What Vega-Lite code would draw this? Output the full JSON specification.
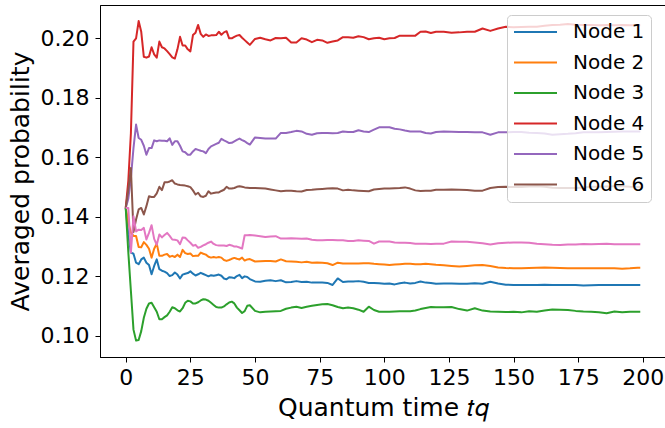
{
  "$schema": "https://vega.github.io/schema/vega-lite/v6.json",
  "width": 566,
  "height": 352,
  "autosize": {"type": "none"},
  "padding": {"left": 100, "top": 5, "right": 0, "bottom": 71},
  "background": "white",
  "config": {
    "font": "DejaVu Sans",
    "view": {"stroke": "black", "strokeWidth": 1},
    "axis": {
      "grid": false,
      "domainColor": "black",
      "tickColor": "black",
      "tickSize": 5,
      "labelColor": "black",
      "titleColor": "black",
      "labelFont": "DejaVu Sans",
      "titleFont": "DejaVu Sans",
      "labelFontSize": 22,
      "titleFontSize": 25,
      "titleFontWeight": "normal"
    }
  },
  "data": {
    "values": [
      {"t":0,"Node 1":0.1429,"Node 2":0.1429,"Node 3":0.1429,"Node 4":0.1429,"Node 5":0.1429,"Node 6":0.1429,"Node 7":0.1429},
      {"t":1,"Node 1":0.134,"Node 2":0.138,"Node 3":0.128,"Node 4":0.152,"Node 5":0.146,"Node 6":0.149,"Node 7":0.1429},
      {"t":2,"Node 1":0.1279,"Node 2":0.1346,"Node 3":0.115,"Node 4":0.168,"Node 5":0.153,"Node 6":0.1563,"Node 7":0.1279},
      {"t":3,"Node 1":0.1275,"Node 2":0.1335,"Node 3":0.102,"Node 4":0.1988,"Node 5":0.163,"Node 6":0.1348,"Node 7":0.1401},
      {"t":4,"Node 1":0.1245,"Node 2":0.1335,"Node 3":0.0983,"Node 4":0.1999,"Node 5":0.1709,"Node 6":0.139,"Node 7":0.135},
      {"t":5,"Node 1":0.124,"Node 2":0.1298,"Node 3":0.0985,"Node 4":0.2057,"Node 5":0.1664,"Node 6":0.1424,"Node 7":0.1356},
      {"t":6,"Node 1":0.1256,"Node 2":0.1297,"Node 3":0.1015,"Node 4":0.2021,"Node 5":0.1658,"Node 6":0.1429,"Node 7":0.1355},
      {"t":7,"Node 1":0.1262,"Node 2":0.1314,"Node 3":0.106,"Node 4":0.1937,"Node 5":0.1638,"Node 6":0.1407,"Node 7":0.1362},
      {"t":8,"Node 1":0.1245,"Node 2":0.1305,"Node 3":0.109,"Node 4":0.1934,"Node 5":0.1608,"Node 6":0.1435,"Node 7":0.1323},
      {"t":9,"Node 1":0.1237,"Node 2":0.1292,"Node 3":0.1108,"Node 4":0.1938,"Node 5":0.163,"Node 6":0.1468,"Node 7":0.1345},
      {"t":10,"Node 1":0.1206,"Node 2":0.1262,"Node 3":0.111,"Node 4":0.1969,"Node 5":0.163,"Node 6":0.1466,"Node 7":0.1371},
      {"t":11,"Node 1":0.1234,"Node 2":0.1292,"Node 3":0.1095,"Node 4":0.1945,"Node 5":0.1656,"Node 6":0.1466,"Node 7":0.1325},
      {"t":12,"Node 1":0.1256,"Node 2":0.1309,"Node 3":0.108,"Node 4":0.1934,"Node 5":0.1653,"Node 6":0.1478,"Node 7":0.1305},
      {"t":13,"Node 1":0.1223,"Node 2":0.1268,"Node 3":0.1055,"Node 4":0.1988,"Node 5":0.1656,"Node 6":0.15,"Node 7":0.134},
      {"t":14,"Node 1":0.1218,"Node 2":0.1268,"Node 3":0.1055,"Node 4":0.1969,"Node 5":0.1655,"Node 6":0.1489,"Node 7":0.133},
      {"t":15,"Node 1":0.1215,"Node 2":0.1272,"Node 3":0.1062,"Node 4":0.1965,"Node 5":0.1655,"Node 6":0.1515,"Node 7":0.1338},
      {"t":16,"Node 1":0.121,"Node 2":0.1274,"Node 3":0.1068,"Node 4":0.1956,"Node 5":0.1653,"Node 6":0.1515,"Node 7":0.1345},
      {"t":17,"Node 1":0.12,"Node 2":0.1265,"Node 3":0.108,"Node 4":0.1946,"Node 5":0.1663,"Node 6":0.1518,"Node 7":0.1335},
      {"t":18,"Node 1":0.1203,"Node 2":0.1268,"Node 3":0.1095,"Node 4":0.1935,"Node 5":0.1641,"Node 6":0.1522,"Node 7":0.1323},
      {"t":19,"Node 1":0.1212,"Node 2":0.1264,"Node 3":0.1092,"Node 4":0.1931,"Node 5":0.1653,"Node 6":0.1511,"Node 7":0.1322},
      {"t":20,"Node 1":0.1205,"Node 2":0.1272,"Node 3":0.1085,"Node 4":0.1962,"Node 5":0.1653,"Node 6":0.1508,"Node 7":0.132},
      {"t":21,"Node 1":0.1192,"Node 2":0.1264,"Node 3":0.1081,"Node 4":0.2004,"Node 5":0.1638,"Node 6":0.1506,"Node 7":0.1307},
      {"t":22,"Node 1":0.1205,"Node 2":0.1288,"Node 3":0.1092,"Node 4":0.1975,"Node 5":0.1619,"Node 6":0.1505,"Node 7":0.133},
      {"t":23,"Node 1":0.1208,"Node 2":0.1277,"Node 3":0.111,"Node 4":0.1975,"Node 5":0.1616,"Node 6":0.1504,"Node 7":0.1329},
      {"t":24,"Node 1":0.121,"Node 2":0.1274,"Node 3":0.1117,"Node 4":0.1962,"Node 5":0.1608,"Node 6":0.1502,"Node 7":0.132},
      {"t":25,"Node 1":0.1216,"Node 2":0.1276,"Node 3":0.1115,"Node 4":0.1955,"Node 5":0.1608,"Node 6":0.1499,"Node 7":0.1312},
      {"t":26,"Node 1":0.1208,"Node 2":0.1267,"Node 3":0.1108,"Node 4":0.201,"Node 5":0.1619,"Node 6":0.1488,"Node 7":0.1302},
      {"t":27,"Node 1":0.1202,"Node 2":0.1268,"Node 3":0.1108,"Node 4":0.2018,"Node 5":0.1627,"Node 6":0.1474,"Node 7":0.1305},
      {"t":28,"Node 1":0.1206,"Node 2":0.1268,"Node 3":0.1112,"Node 4":0.2044,"Node 5":0.1624,"Node 6":0.148,"Node 7":0.1295},
      {"t":29,"Node 1":0.1211,"Node 2":0.1279,"Node 3":0.1118,"Node 4":0.2014,"Node 5":0.1621,"Node 6":0.1468,"Node 7":0.1298},
      {"t":30,"Node 1":0.1207,"Node 2":0.1275,"Node 3":0.1122,"Node 4":0.2004,"Node 5":0.1619,"Node 6":0.1466,"Node 7":0.1303},
      {"t":31,"Node 1":0.1203,"Node 2":0.1272,"Node 3":0.1121,"Node 4":0.2012,"Node 5":0.1613,"Node 6":0.147,"Node 7":0.1307},
      {"t":32,"Node 1":0.1199,"Node 2":0.1265,"Node 3":0.1117,"Node 4":0.2007,"Node 5":0.1627,"Node 6":0.1485,"Node 7":0.1312},
      {"t":33,"Node 1":0.1203,"Node 2":0.1262,"Node 3":0.111,"Node 4":0.2009,"Node 5":0.1636,"Node 6":0.1477,"Node 7":0.1316},
      {"t":34,"Node 1":0.1201,"Node 2":0.1264,"Node 3":0.1103,"Node 4":0.2009,"Node 5":0.164,"Node 6":0.1479,"Node 7":0.1308},
      {"t":35,"Node 1":0.1203,"Node 2":0.1262,"Node 3":0.1096,"Node 4":0.201,"Node 5":0.1644,"Node 6":0.1481,"Node 7":0.1304},
      {"t":36,"Node 1":0.1205,"Node 2":0.1264,"Node 3":0.1094,"Node 4":0.2021,"Node 5":0.1648,"Node 6":0.1481,"Node 7":0.1303},
      {"t":37,"Node 1":0.1201,"Node 2":0.1262,"Node 3":0.1094,"Node 4":0.2011,"Node 5":0.1661,"Node 6":0.1486,"Node 7":0.1303},
      {"t":38,"Node 1":0.1192,"Node 2":0.1254,"Node 3":0.1098,"Node 4":0.2019,"Node 5":0.1656,"Node 6":0.149,"Node 7":0.1303},
      {"t":39,"Node 1":0.1189,"Node 2":0.1251,"Node 3":0.1105,"Node 4":0.2023,"Node 5":0.1652,"Node 6":0.15,"Node 7":0.1301},
      {"t":40,"Node 1":0.1196,"Node 2":0.1254,"Node 3":0.1111,"Node 4":0.1999,"Node 5":0.1647,"Node 6":0.1494,"Node 7":0.1305},
      {"t":41,"Node 1":0.1195,"Node 2":0.1258,"Node 3":0.1114,"Node 4":0.1999,"Node 5":0.1648,"Node 6":0.1494,"Node 7":0.1303},
      {"t":42,"Node 1":0.1193,"Node 2":0.1261,"Node 3":0.1108,"Node 4":0.2004,"Node 5":0.1653,"Node 6":0.1496,"Node 7":0.1299},
      {"t":43,"Node 1":0.12,"Node 2":0.1258,"Node 3":0.1094,"Node 4":0.2008,"Node 5":0.1658,"Node 6":0.15,"Node 7":0.1299},
      {"t":44,"Node 1":0.1204,"Node 2":0.1256,"Node 3":0.1085,"Node 4":0.201,"Node 5":0.1662,"Node 6":0.1502,"Node 7":0.1296},
      {"t":45,"Node 1":0.1193,"Node 2":0.1262,"Node 3":0.1076,"Node 4":0.2001,"Node 5":0.1657,"Node 6":0.15,"Node 7":0.1292},
      {"t":46,"Node 1":0.1199,"Node 2":0.1252,"Node 3":0.1082,"Node 4":0.1993,"Node 5":0.1653,"Node 6":0.1498,"Node 7":0.1337},
      {"t":47,"Node 1":0.1197,"Node 2":0.1256,"Node 3":0.11,"Node 4":0.1985,"Node 5":0.1647,"Node 6":0.1497,"Node 7":0.1337},
      {"t":48,"Node 1":0.119,"Node 2":0.1257,"Node 3":0.1102,"Node 4":0.1977,"Node 5":0.1642,"Node 6":0.1496,"Node 7":0.1338},
      {"t":50,"Node 1":0.1182,"Node 2":0.1249,"Node 3":0.1083,"Node 4":0.1997,"Node 5":0.1666,"Node 6":0.1496,"Node 7":0.1336},
      {"t":52,"Node 1":0.1181,"Node 2":0.125,"Node 3":0.1078,"Node 4":0.2001,"Node 5":0.1664,"Node 6":0.1495,"Node 7":0.1334},
      {"t":54,"Node 1":0.1184,"Node 2":0.1251,"Node 3":0.108,"Node 4":0.1996,"Node 5":0.1662,"Node 6":0.1494,"Node 7":0.1331},
      {"t":56,"Node 1":0.1186,"Node 2":0.1251,"Node 3":0.1081,"Node 4":0.1992,"Node 5":0.1662,"Node 6":0.1491,"Node 7":0.1333},
      {"t":58,"Node 1":0.1183,"Node 2":0.1249,"Node 3":0.1082,"Node 4":0.2,"Node 5":0.1662,"Node 6":0.1488,"Node 7":0.1334},
      {"t":60,"Node 1":0.1186,"Node 2":0.1256,"Node 3":0.1083,"Node 4":0.1999,"Node 5":0.1681,"Node 6":0.1485,"Node 7":0.1326},
      {"t":62,"Node 1":0.1179,"Node 2":0.125,"Node 3":0.109,"Node 4":0.2001,"Node 5":0.1681,"Node 6":0.1487,"Node 7":0.1326},
      {"t":64,"Node 1":0.118,"Node 2":0.1249,"Node 3":0.1094,"Node 4":0.1985,"Node 5":0.1684,"Node 6":0.1487,"Node 7":0.1327},
      {"t":66,"Node 1":0.1183,"Node 2":0.1248,"Node 3":0.1097,"Node 4":0.1985,"Node 5":0.1688,"Node 6":0.1485,"Node 7":0.1326},
      {"t":68,"Node 1":0.118,"Node 2":0.1246,"Node 3":0.1093,"Node 4":0.1999,"Node 5":0.1686,"Node 6":0.1484,"Node 7":0.1325},
      {"t":70,"Node 1":0.1181,"Node 2":0.1248,"Node 3":0.1097,"Node 4":0.1995,"Node 5":0.1678,"Node 6":0.1489,"Node 7":0.1326},
      {"t":72,"Node 1":0.1178,"Node 2":0.1245,"Node 3":0.11,"Node 4":0.1986,"Node 5":0.1675,"Node 6":0.149,"Node 7":0.1322},
      {"t":74,"Node 1":0.1178,"Node 2":0.1246,"Node 3":0.1103,"Node 4":0.1994,"Node 5":0.168,"Node 6":0.1492,"Node 7":0.132},
      {"t":76,"Node 1":0.1178,"Node 2":0.1245,"Node 3":0.1105,"Node 4":0.1992,"Node 5":0.1681,"Node 6":0.1493,"Node 7":0.132},
      {"t":78,"Node 1":0.1177,"Node 2":0.1243,"Node 3":0.1106,"Node 4":0.1984,"Node 5":0.1681,"Node 6":0.1494,"Node 7":0.1321},
      {"t":80,"Node 1":0.117,"Node 2":0.1237,"Node 3":0.1102,"Node 4":0.1988,"Node 5":0.168,"Node 6":0.1495,"Node 7":0.1321},
      {"t":82,"Node 1":0.1192,"Node 2":0.1245,"Node 3":0.1096,"Node 4":0.1992,"Node 5":0.1681,"Node 6":0.1494,"Node 7":0.132},
      {"t":84,"Node 1":0.118,"Node 2":0.1242,"Node 3":0.1092,"Node 4":0.2003,"Node 5":0.1686,"Node 6":0.1488,"Node 7":0.132},
      {"t":86,"Node 1":0.1182,"Node 2":0.1242,"Node 3":0.1094,"Node 4":0.2003,"Node 5":0.1684,"Node 6":0.149,"Node 7":0.1318},
      {"t":88,"Node 1":0.1182,"Node 2":0.1242,"Node 3":0.1092,"Node 4":0.2001,"Node 5":0.1684,"Node 6":0.1488,"Node 7":0.1318},
      {"t":90,"Node 1":0.1183,"Node 2":0.1242,"Node 3":0.1087,"Node 4":0.2006,"Node 5":0.169,"Node 6":0.1487,"Node 7":0.132},
      {"t":92,"Node 1":0.1181,"Node 2":0.1243,"Node 3":0.108,"Node 4":0.2003,"Node 5":0.1686,"Node 6":0.1486,"Node 7":0.1319},
      {"t":94,"Node 1":0.1177,"Node 2":0.1243,"Node 3":0.1097,"Node 4":0.1996,"Node 5":0.1684,"Node 6":0.1485,"Node 7":0.1318},
      {"t":96,"Node 1":0.1177,"Node 2":0.1241,"Node 3":0.1086,"Node 4":0.1999,"Node 5":0.1692,"Node 6":0.1491,"Node 7":0.1309},
      {"t":98,"Node 1":0.1176,"Node 2":0.124,"Node 3":0.108,"Node 4":0.2001,"Node 5":0.17,"Node 6":0.1493,"Node 7":0.1316},
      {"t":100,"Node 1":0.1174,"Node 2":0.1239,"Node 3":0.108,"Node 4":0.1996,"Node 5":0.17,"Node 6":0.1494,"Node 7":0.1316},
      {"t":102,"Node 1":0.1175,"Node 2":0.1237,"Node 3":0.108,"Node 4":0.1999,"Node 5":0.17,"Node 6":0.1494,"Node 7":0.1316},
      {"t":104,"Node 1":0.1172,"Node 2":0.1239,"Node 3":0.1081,"Node 4":0.2,"Node 5":0.1695,"Node 6":0.1495,"Node 7":0.1313},
      {"t":106,"Node 1":0.1176,"Node 2":0.124,"Node 3":0.1082,"Node 4":0.2008,"Node 5":0.1693,"Node 6":0.1496,"Node 7":0.1312},
      {"t":108,"Node 1":0.1178,"Node 2":0.1241,"Node 3":0.1082,"Node 4":0.2008,"Node 5":0.1689,"Node 6":0.1498,"Node 7":0.1312},
      {"t":110,"Node 1":0.1175,"Node 2":0.1241,"Node 3":0.1082,"Node 4":0.2008,"Node 5":0.1686,"Node 6":0.1494,"Node 7":0.1311},
      {"t":112,"Node 1":0.1177,"Node 2":0.124,"Node 3":0.1084,"Node 4":0.2008,"Node 5":0.1686,"Node 6":0.1488,"Node 7":0.1309},
      {"t":114,"Node 1":0.1182,"Node 2":0.124,"Node 3":0.1089,"Node 4":0.2021,"Node 5":0.1686,"Node 6":0.1486,"Node 7":0.1309},
      {"t":116,"Node 1":0.1178,"Node 2":0.1241,"Node 3":0.1093,"Node 4":0.2022,"Node 5":0.1681,"Node 6":0.1487,"Node 7":0.1309},
      {"t":118,"Node 1":0.1177,"Node 2":0.124,"Node 3":0.1096,"Node 4":0.2017,"Node 5":0.1679,"Node 6":0.1487,"Node 7":0.1308},
      {"t":120,"Node 1":0.1174,"Node 2":0.1238,"Node 3":0.1095,"Node 4":0.2021,"Node 5":0.1684,"Node 6":0.149,"Node 7":0.1309},
      {"t":123,"Node 1":0.1175,"Node 2":0.1236,"Node 3":0.1095,"Node 4":0.2021,"Node 5":0.1686,"Node 6":0.149,"Node 7":0.1309},
      {"t":126,"Node 1":0.1175,"Node 2":0.1234,"Node 3":0.1096,"Node 4":0.2018,"Node 5":0.1685,"Node 6":0.1491,"Node 7":0.1316},
      {"t":129,"Node 1":0.1174,"Node 2":0.1232,"Node 3":0.1089,"Node 4":0.2019,"Node 5":0.1684,"Node 6":0.149,"Node 7":0.1315},
      {"t":132,"Node 1":0.1174,"Node 2":0.1234,"Node 3":0.1084,"Node 4":0.2021,"Node 5":0.1684,"Node 6":0.1489,"Node 7":0.1315},
      {"t":135,"Node 1":0.1176,"Node 2":0.1236,"Node 3":0.1092,"Node 4":0.2021,"Node 5":0.1683,"Node 6":0.1487,"Node 7":0.1313},
      {"t":138,"Node 1":0.1174,"Node 2":0.1237,"Node 3":0.1084,"Node 4":0.2032,"Node 5":0.1683,"Node 6":0.1487,"Node 7":0.131},
      {"t":141,"Node 1":0.1181,"Node 2":0.1234,"Node 3":0.1081,"Node 4":0.2024,"Node 5":0.1675,"Node 6":0.1496,"Node 7":0.1306},
      {"t":144,"Node 1":0.1175,"Node 2":0.1229,"Node 3":0.108,"Node 4":0.2032,"Node 5":0.1683,"Node 6":0.1499,"Node 7":0.131},
      {"t":147,"Node 1":0.1171,"Node 2":0.1227,"Node 3":0.1079,"Node 4":0.2038,"Node 5":0.1683,"Node 6":0.15,"Node 7":0.1312},
      {"t":150,"Node 1":0.117,"Node 2":0.1226,"Node 3":0.108,"Node 4":0.2036,"Node 5":0.1684,"Node 6":0.1499,"Node 7":0.1313},
      {"t":153,"Node 1":0.117,"Node 2":0.1226,"Node 3":0.1078,"Node 4":0.2037,"Node 5":0.1684,"Node 6":0.1499,"Node 7":0.1313},
      {"t":156,"Node 1":0.117,"Node 2":0.1227,"Node 3":0.1082,"Node 4":0.2038,"Node 5":0.1682,"Node 6":0.1501,"Node 7":0.1312},
      {"t":159,"Node 1":0.117,"Node 2":0.1228,"Node 3":0.108,"Node 4":0.2038,"Node 5":0.1681,"Node 6":0.1502,"Node 7":0.1309},
      {"t":162,"Node 1":0.1171,"Node 2":0.1229,"Node 3":0.1084,"Node 4":0.2041,"Node 5":0.1679,"Node 6":0.15,"Node 7":0.1307},
      {"t":165,"Node 1":0.117,"Node 2":0.1228,"Node 3":0.1088,"Node 4":0.2044,"Node 5":0.1675,"Node 6":0.1497,"Node 7":0.1305},
      {"t":168,"Node 1":0.117,"Node 2":0.1227,"Node 3":0.1087,"Node 4":0.2045,"Node 5":0.1677,"Node 6":0.1496,"Node 7":0.1304},
      {"t":171,"Node 1":0.117,"Node 2":0.1226,"Node 3":0.1086,"Node 4":0.2047,"Node 5":0.1678,"Node 6":0.1496,"Node 7":0.1306},
      {"t":174,"Node 1":0.117,"Node 2":0.1226,"Node 3":0.1083,"Node 4":0.2045,"Node 5":0.168,"Node 6":0.1496,"Node 7":0.1306},
      {"t":177,"Node 1":0.1168,"Node 2":0.1226,"Node 3":0.1081,"Node 4":0.2044,"Node 5":0.1683,"Node 6":0.1498,"Node 7":0.1308},
      {"t":180,"Node 1":0.1169,"Node 2":0.1226,"Node 3":0.108,"Node 4":0.2044,"Node 5":0.1683,"Node 6":0.15,"Node 7":0.1307},
      {"t":183,"Node 1":0.117,"Node 2":0.1226,"Node 3":0.1078,"Node 4":0.2043,"Node 5":0.1683,"Node 6":0.15,"Node 7":0.1308},
      {"t":186,"Node 1":0.117,"Node 2":0.1226,"Node 3":0.1075,"Node 4":0.2044,"Node 5":0.1684,"Node 6":0.1501,"Node 7":0.1309},
      {"t":189,"Node 1":0.117,"Node 2":0.1226,"Node 3":0.1081,"Node 4":0.2043,"Node 5":0.1685,"Node 6":0.1502,"Node 7":0.1307},
      {"t":192,"Node 1":0.117,"Node 2":0.1225,"Node 3":0.1078,"Node 4":0.2044,"Node 5":0.1686,"Node 6":0.1502,"Node 7":0.1307},
      {"t":195,"Node 1":0.117,"Node 2":0.1226,"Node 3":0.108,"Node 4":0.2043,"Node 5":0.1686,"Node 6":0.15,"Node 7":0.1307},
      {"t":198,"Node 1":0.117,"Node 2":0.1228,"Node 3":0.108,"Node 4":0.2043,"Node 5":0.1686,"Node 6":0.1499,"Node 7":0.1307},
      {"t":199,"Node 1":0.117,"Node 2":0.1228,"Node 3":0.108,"Node 4":0.2043,"Node 5":0.1686,"Node 6":0.1499,"Node 7":0.1307}
    ]
  },
  "transform": [
    {"fold": ["Node 1", "Node 2", "Node 3", "Node 4", "Node 5", "Node 6", "Node 7"], "as": ["node", "p"]}
  ],
  "mark": {"type": "line", "strokeWidth": 2, "interpolate": "linear", "strokeJoin": "round", "strokeCap": "butt"},
  "encoding": {
    "x": {
      "field": "t", "type": "quantitative",
      "scale": {"domain": [-9.95, 208.95], "nice": false, "zero": false},
      "axis": {"values": [0, 25, 50, 75, 100, 125, 150, 175, 200], "format": "d", "labelPadding": 5, "titlePadding": 7, "title": "Quantum time 𝑡𝑞"}
    },
    "y": {
      "field": "p", "type": "quantitative",
      "scale": {"domain": [0.0928, 0.2111], "nice": false, "zero": false},
      "axis": {"values": [0.1, 0.12, 0.14, 0.16, 0.18, 0.2], "format": ".2f", "labelPadding": 6, "titlePadding": 7, "title": "Averaged probability"}
    },
    "color": {
      "field": "node", "type": "nominal",
      "scale": {
        "domain": ["Node 1", "Node 2", "Node 3", "Node 4", "Node 5", "Node 6", "Node 7"],
        "range": ["#1f77b4", "#ff7f0e", "#2ca02c", "#d62728", "#9467bd", "#8c564b", "#e377c2"]
      },
      "legend": {
        "values": ["Node 1", "Node 2", "Node 3", "Node 4", "Node 5", "Node 6"],
        "title": null,
        "orient": "none",
        "legendX": 407,
        "legendY": 10,
        "symbolType": "stroke",
        "symbolSize": 1849,
        "symbolStrokeWidth": 2,
        "labelFontSize": 20,
        "labelFont": "DejaVu Sans",
        "labelColor": "black",
        "labelOffset": 15,
        "clipHeight": 22,
        "rowPadding": 8.5,
        "padding": 6,
        "fillColor": "rgba(255,255,255,0.8)",
        "strokeColor": "#cccccc",
        "cornerRadius": 4
      }
    }
  }
}
